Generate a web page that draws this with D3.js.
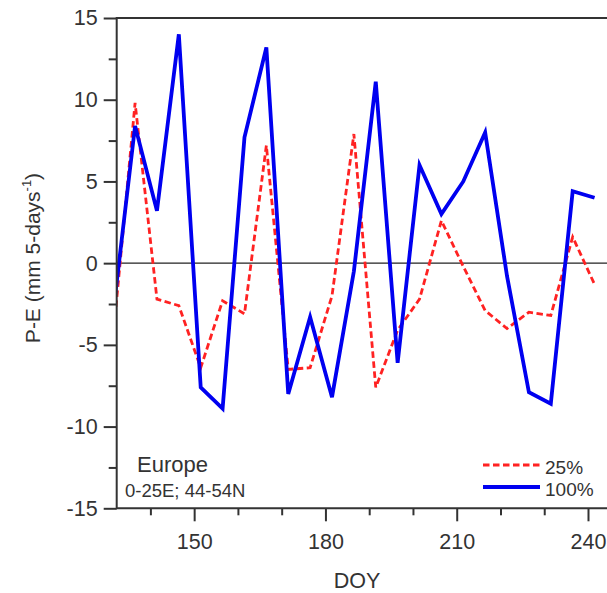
<!DOCTYPE html>
<html>
<head>
<meta charset="utf-8">
<script src="https://cdn.jsdelivr.net/npm/d3@7"></script>
<style>
  body { margin: 0; background: #fff; }
  svg { display: block; font-family: Arial, "Liberation Sans", sans-serif; }
</style>
</head>
<body>
<svg id="chart" width="607" height="593"></svg>
<script>
// pentad centres (DOY)
var doy = [131.5, 136.5, 141.5, 146.5, 151.5, 156.5, 161.5, 166.5, 171.5, 176.5, 181.5, 186.5,
  191.5, 196.5, 201.5, 206.5, 211.5, 216.5, 221.5, 226.5, 231.5, 236.5, 241.5];
var pe25 = [-4.5, 9.8, -2.2, -2.6, -6.4, -2.3, -3.1, 7.2, -6.5, -6.4, -2.0, 7.9,
  -7.6, -4.1, -2.2, 2.6, -0.2, -2.9, -4.0, -3.0, -3.2, 1.6, -1.3];
var pe100 = [-3.0, 8.4, 3.2, 14.0, -7.6, -8.9, 7.7, 13.2, -8.0, -3.3, -8.2, -0.5,
  11.1, -6.1, 6.0, 3.0, 5.0, 8.0, -0.8, -7.9, -8.6, 4.4, 4.0];
var xMajor = [150, 180, 210, 240];
var xMinor = [140, 160, 170, 190, 200, 220, 230];
var yMajor = [-15, -10, -5, 0, 5, 10, 15];
var yMinor = [-12.5, -7.5, -2.5, 2.5, 7.5, 12.5];
var seriesNames = ["25%", "100%"];

var L = 116.7, R = 609, T = 18, B = 508.3;
var svg = d3.select('#chart');
var x = d3.scaleLinear().domain([132.3, 244.8]).range([L, R]);
var y = d3.scaleLinear().domain([-15, 15]).range([B, T]);
var axisCol = '#333';
var fnt = 'Arial, "Liberation Sans", sans-serif';

svg.append('defs').append('clipPath').attr('id', 'plotclip')
  .append('rect').attr('x', L).attr('y', T).attr('width', R - L).attr('height', B - T);

// zero line
svg.append('line').attr('x1', L).attr('x2', R).attr('y1', y(0)).attr('y2', y(0))
  .style('stroke', '#222').style('stroke-width', 1.2);

var line = d3.line().x((d) => x(d[0])).y((d) => y(d[1]));
var g = svg.append('g').attr('clip-path', 'url(#plotclip)');
g.append('path').datum(doy.map((d, i) => [d, pe25[i]])).attr('d', line)
  .style('fill', 'none').style('stroke', '#f22').style('stroke-width', 2.8)
  .style('stroke-dasharray', '6.5,3.5');
g.append('path').datum(doy.map((d, i) => [d, pe100[i]])).attr('d', line)
  .style('fill', 'none').style('stroke', '#0000f0').style('stroke-width', 3.8)
  .style('stroke-linejoin', 'miter');

// axes
svg.append('g').attr('transform', 'translate(' + L + ',0)')
  .call(d3.axisLeft(y).tickValues(yMajor).tickSize(13).tickPadding(6).tickFormat((d) => String(d)));
svg.append('g').attr('transform', 'translate(' + L + ',0)')
  .call(d3.axisLeft(y).tickValues(yMinor).tickSize(8).tickFormat(''));
svg.append('g').attr('transform', 'translate(0,' + B + ')')
  .call(d3.axisBottom(x).tickValues(xMajor).tickSize(13).tickPadding(12).tickFormat((d) => String(d)));
svg.append('g').attr('transform', 'translate(0,' + B + ')')
  .call(d3.axisBottom(x).tickValues(xMinor).tickSize(7).tickFormat(''));
svg.selectAll('.domain').remove();
svg.selectAll('.tick line').style('stroke', axisCol).style('stroke-width', 2);
svg.selectAll('.tick text').style('font-size', '21.5px').style('fill', '#333').style('font-family', fnt);

// frame
svg.append('path').attr('d', 'M' + R + ',' + T + 'H' + L + 'V' + B + 'H' + R)
  .style('fill', 'none').style('stroke', axisCol).style('stroke-width', 2);

// axis titles
svg.append('text').attr('x', 357).attr('y', 588).attr('text-anchor', 'middle')
  .style('font-size', '21.5px').style('fill', '#333').text('DOY');
var yt = svg.append('text').attr('transform', 'translate(40,258) rotate(-90)')
  .attr('text-anchor', 'middle').style('font-size', '21px').style('fill', '#333');
yt.append('tspan').text('P-E  (mm 5-days');
yt.append('tspan').attr('dy', -9).style('font-size', '13px').text('-1');
yt.append('tspan').attr('dy', 9).text(')');

// region labels
svg.append('text').attr('x', 137).attr('y', 472).style('font-size', '22px').style('fill', '#333').text('Europe');
svg.append('text').attr('x', 125).attr('y', 497).style('font-size', '18.5px').style('fill', '#333')
  .text('0-25E; 44-54N');

// legend
var leg = svg.append('g');
leg.append('line').attr('x1', 483).attr('x2', 540).attr('y1', 465).attr('y2', 465)
  .style('stroke', '#f22').style('stroke-width', 2.8).style('stroke-dasharray', '6.5,3.5');
leg.append('line').attr('x1', 483).attr('x2', 540).attr('y1', 487).attr('y2', 487)
  .style('stroke', '#0000f0').style('stroke-width', 3.8);
leg.selectAll('text').data(seriesNames).enter().append('text')
  .attr('x', 545).attr('y', (d, i) => 474 + i * 22)
  .style('font-size', '19px').style('fill', '#333').style('font-family', fnt).text((d) => d);
</script>
</body>
</html>
